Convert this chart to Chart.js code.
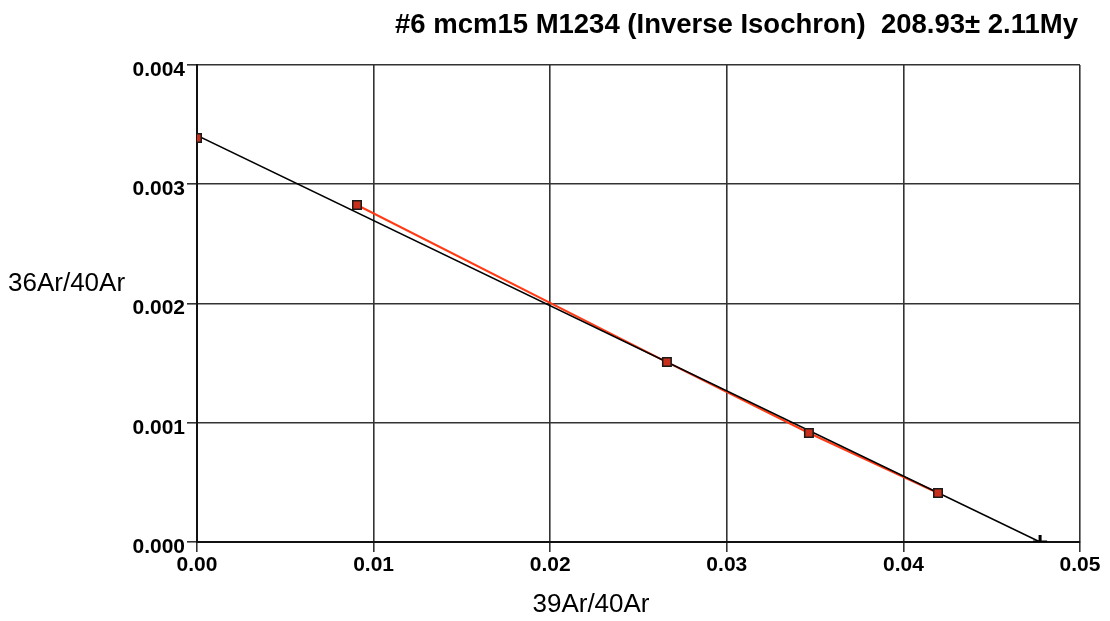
<!DOCTYPE html>
<html>
<head>
<meta charset="utf-8">
<title>Inverse Isochron</title>
<script src="https://cdn.jsdelivr.net/npm/chart.js@4"></script>
<style>
  html, body { margin: 0; padding: 0; background: #fff; }
  canvas { display: block; }
</style>
</head>
<body>
<canvas id="isochron" width="1110" height="621"></canvas>
<script>
// measured steps: 39Ar/40Ar vs 36Ar/40Ar
const ar39Ratio = [0.0, 0.00906, 0.02661, 0.03465, 0.04196];
const ar36Ratio = [0.003388, 0.002826, 0.001509, 0.000914, 0.000411];

// steps joined by the plateau line
const plateauSteps = [1, 2, 3, 4];

// isochron fit: y-intercept and x-intercept
const fitX = [0.0, 0.04774];
const fitY = [0.00341, 0.0];

const chartTitle = '#6 mcm15 M1234 (Inverse Isochron)  208.93\u00B1 2.11My';
const xTitle = '39Ar/40Ar';
const yTitle = '36Ar/40Ar';

const points = ar39Ratio.map((x, i) => ({ x: x, y: ar36Ratio[i] }));
const plateau = plateauSteps.map(i => points[i]);
const fitLine = fitX.map((x, i) => ({ x: x, y: fitY[i] }));
const intercept = [fitLine[1]];

const FONT = '"Liberation Sans", Arial, sans-serif';

// title and axis captions drawn straight on the canvas
const captions = {
    id: 'captions',
    afterDraw(chart) {
        const ctx = chart.ctx;
        const area = chart.chartArea;
        ctx.save();
        ctx.fillStyle = '#000';

        // title, squeezed a little horizontally
        ctx.font = 'bold 28px ' + FONT;
        const w = ctx.measureText(chartTitle).width;
        const target = 683;
        ctx.translate(area.right - 2, 33);
        ctx.scale(target / w, 1);
        ctx.textAlign = 'right';
        ctx.textBaseline = 'alphabetic';
        ctx.fillText(chartTitle, 0, 0);
        ctx.setTransform(1, 0, 0, 1, 0, 0);

        ctx.font = '26px ' + FONT;
        ctx.textBaseline = 'middle';
        ctx.textAlign = 'left';
        ctx.fillText(yTitle, 8, 284);
        ctx.textAlign = 'center';
        ctx.fillText(xTitle, 591, 605);
        ctx.restore();
    }
};

new Chart(document.getElementById('isochron'), {
    type: 'scatter',
    data: {
        datasets: [
            {
                label: 'steps',
                data: points,
                pointStyle: 'rect',
                pointRadius: 6,
                backgroundColor: '#c8301c',
                borderColor: '#1a1a1a',
                borderWidth: 1.5,
                showLine: false,
                order: 0
            },
            {
                label: 'intercept',
                data: intercept,
                pointStyle: 'cross',
                pointRadius: 7,
                borderColor: '#000',
                borderWidth: 3,
                showLine: false,
                order: 1
            },
            {
                label: 'fit',
                data: fitLine,
                showLine: true,
                pointRadius: 0,
                borderColor: '#000',
                borderWidth: 1.6,
                order: 2
            },
            {
                label: 'plateau',
                data: plateau,
                showLine: true,
                pointRadius: 0,
                borderColor: '#ff3a14',
                borderWidth: 2,
                order: 3
            }
        ]
    },
    options: {
        responsive: false,
        animation: false,
        layout: { padding: { top: 65, right: 30, left: 0, bottom: 0 } },
        plugins: {
            legend: { display: false },
            tooltip: { enabled: false }
        },
        scales: {
            x: {
                type: 'linear',
                min: 0,
                max: 0.05,
                afterFit(scale) { scale.height = 79; },
                border: { display: true, color: '#111', width: 2 },
                grid: { color: '#333', lineWidth: 1.6, tickLength: 10, tickColor: '#333' },
                ticks: {
                    stepSize: 0.01,
                    padding: 1,
                    color: '#000',
                    font: { family: FONT, size: 21, weight: 'bold' },
                    maxRotation: 0,
                    callback: v => v.toFixed(2)
                }
            },
            y: {
                type: 'linear',
                min: 0,
                max: 0.004,
                afterFit(scale) { scale.width = 197; },
                border: { display: true, color: '#111', width: 2 },
                grid: { color: '#333', lineWidth: 1.6, tickLength: 10, tickColor: '#333' },
                ticks: {
                    stepSize: 0.001,
                    padding: 2,
                    labelOffset: 5,
                    color: '#000',
                    font: { family: FONT, size: 21, weight: 'bold' },
                    callback: v => v.toFixed(3)
                }
            }
        }
    },
    plugins: [captions]
});
</script>
</body>
</html>
